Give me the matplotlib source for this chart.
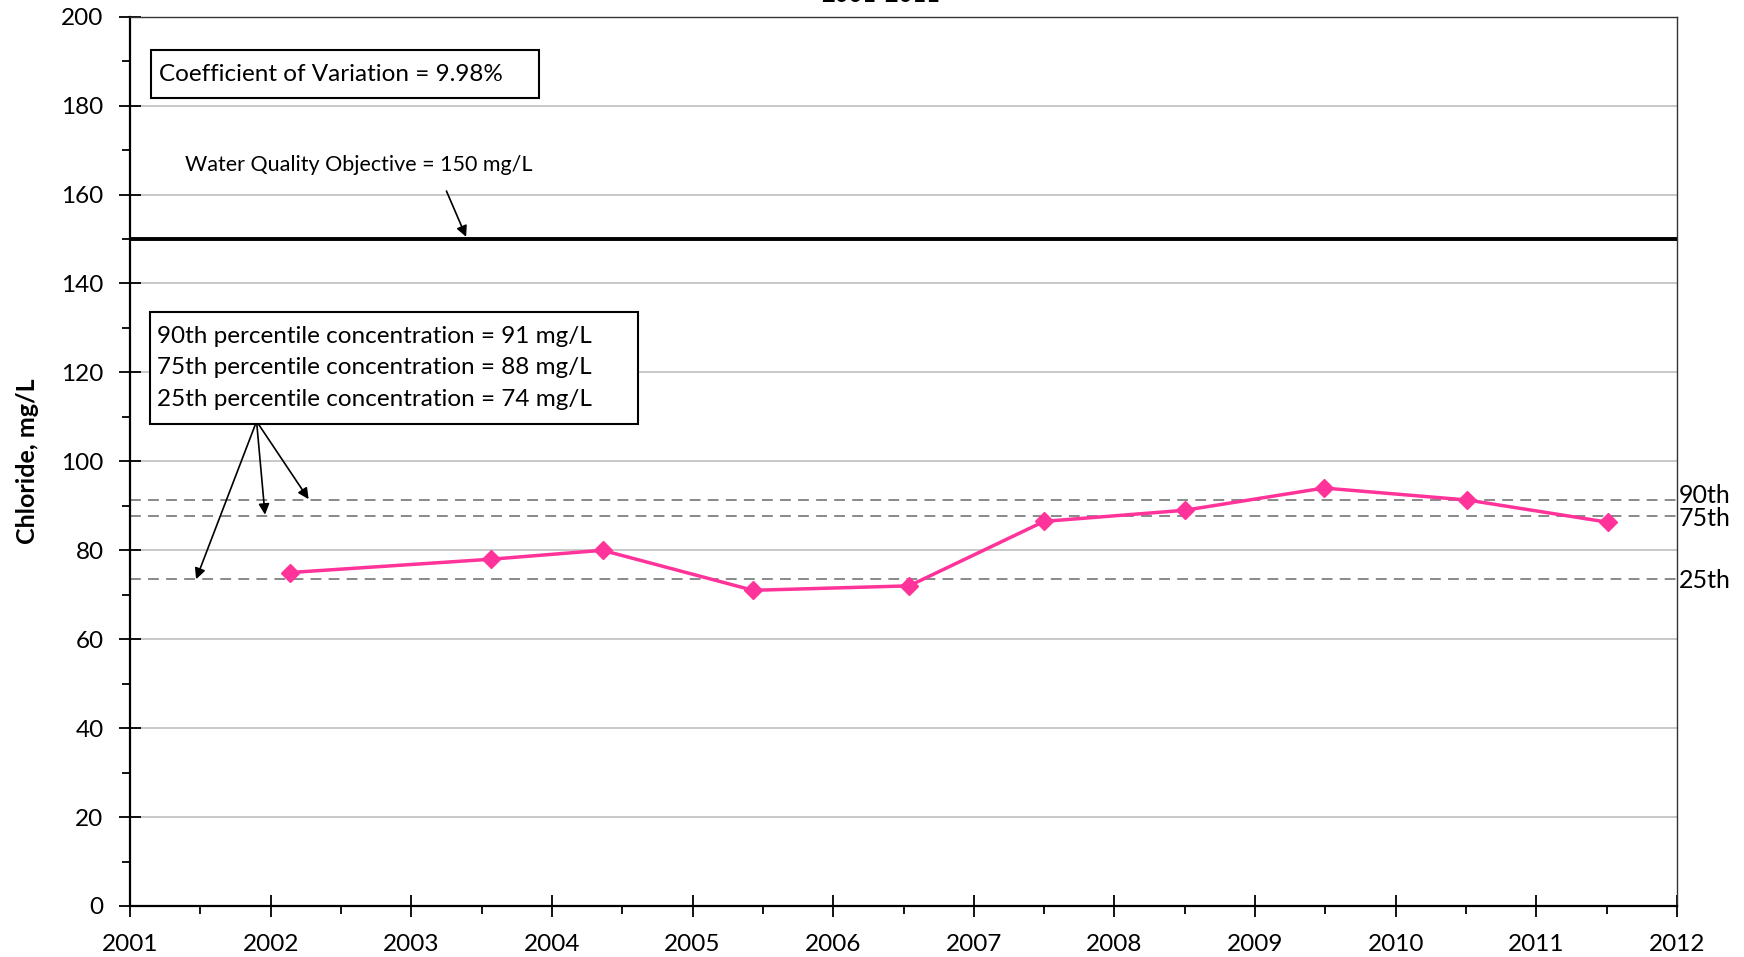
import matplotlib
matplotlib.use("Agg")
import matplotlib.pyplot as plt
from matplotlib.ticker import MultipleLocator
from matplotlib.patches import Rectangle

plt.rcParams['font.family'] = ['Lato', 'DejaVu Sans']

# Data
sample_year = [2002.14, 2003.57, 2004.36, 2005.43, 2006.54, 2007.50,
               2008.50, 2009.49, 2010.51, 2011.51]
chloride = [75, 78, 80, 71, 72, 86.5, 89, 94, 91.3, 86.3]
pct_names = ["90th", "75th", "25th"]
pct_values = [91.3, 87.8, 73.6]
wqo = 150
year_ticks = list(range(2001, 2013))
y_ticks = list(range(0, 201, 20))
title = "2001-2011"
ylabel = "Chloride, mg/L"
cv_text = "Coefficient of Variation = 9.98%"
wqo_text = "Water Quality Objective = 150 mg/L"
pct_text = ("90th percentile concentration = 91 mg/L\n"
            "75th percentile concentration = 88 mg/L\n"
            "25th percentile concentration = 74 mg/L")

W, H = 1744, 957
fig = plt.figure(figsize=(W / 100, H / 100), dpi=100)
ax = fig.add_axes([130 / W, 1 - 906 / H, (1677 - 130) / W, (906 - 16.7) / H])

ax.set_xlim(2001, 2012)
ax.set_ylim(0, 200)
ax.set_xticks(year_ticks)
ax.set_xticklabels([str(y) for y in year_ticks])
ax.xaxis.set_minor_locator(MultipleLocator(0.5))
ax.set_yticks(y_ticks)
ax.yaxis.set_minor_locator(MultipleLocator(10))
ax.tick_params(axis='both', which='major', direction='inout', length=16, width=1.3,
               labelsize=17.5, color='black')
ax.tick_params(axis='both', which='minor', direction='out', length=6, width=1.3)
ax.tick_params(axis='x', which='major', pad=12)
ax.tick_params(axis='y', which='major', pad=11)
for side in ['left', 'bottom']:
    ax.spines[side].set_linewidth(1.6)
for side in ['right', 'top']:
    ax.spines[side].set_linewidth(1.0)
    ax.spines[side].set_color('#333333')

ax.grid(axis='y', color='#BFBFBF', linewidth=1.2)
ax.set_axisbelow(True)

ax.set_ylabel(ylabel, fontsize=18, fontweight='bold', labelpad=16)

# Water quality objective
ax.axhline(wqo, color='black', linewidth=2.8, zorder=3)

# Percentile lines
for name, v, dy in zip(pct_names, pct_values, [3, -2, -1.5]):
    ax.axhline(v, color='#808080', linewidth=1.3, linestyle=(0, (6, 4)), zorder=2)
    ax.annotate(name, xy=(1, v), xycoords=('axes fraction', 'data'),
                xytext=(1, dy), textcoords='offset points',
                va='center', ha='left', fontsize=18, annotation_clip=False)

# Data series
ax.plot(sample_year, chloride, color='#FF3399', linewidth=2.5, marker='D',
        markersize=9, zorder=4)

# Coefficient of variation box
ax.add_patch(Rectangle((2001.150, 181.75), 2003.910 - 2001.150, 192.5 - 181.75,
                       fc='white', ec='black', lw=1.5, zorder=5))
ax.text(2001.205, 187.0, cv_text, fontsize=17.5, va='center', ha='left', zorder=6)

# Water quality objective label and arrow
ax.text(2001.39, 166.6, wqo_text, fontsize=15.5, va='center', ha='left')
ax.annotate('', xy=(2003.39, 150.5), xytext=(2003.25, 160.8),
            arrowprops=dict(arrowstyle='-|>', color='black', lw=1.2,
                            mutation_scale=16, shrinkA=0, shrinkB=0))

# Percentile box
ax.add_patch(Rectangle((2001.142, 108.5), 2004.614 - 2001.142, 133.5 - 108.5,
                       fc='white', ec='black', lw=1.5, zorder=5))
ax.text(2001.19, 121.0, pct_text, fontsize=17.5, va='center', ha='left',
        linespacing=1.62, zorder=6)
start = (2001.90, 109.0)
for end in [(2001.47, 73.5), (2001.96, 88.0), (2002.27, 91.5)]:
    ax.annotate('', xy=end, xytext=start,
                arrowprops=dict(arrowstyle='-|>', color='black', lw=1.2,
                                mutation_scale=16, shrinkA=0, shrinkB=0))

# Title (partially cropped at top in the reference)
fig.text(881 / W, 1 - 2 / H, title, fontsize=17, fontweight='bold',
         ha='center', va='baseline')

fig.savefig("out.png", dpi=100)
